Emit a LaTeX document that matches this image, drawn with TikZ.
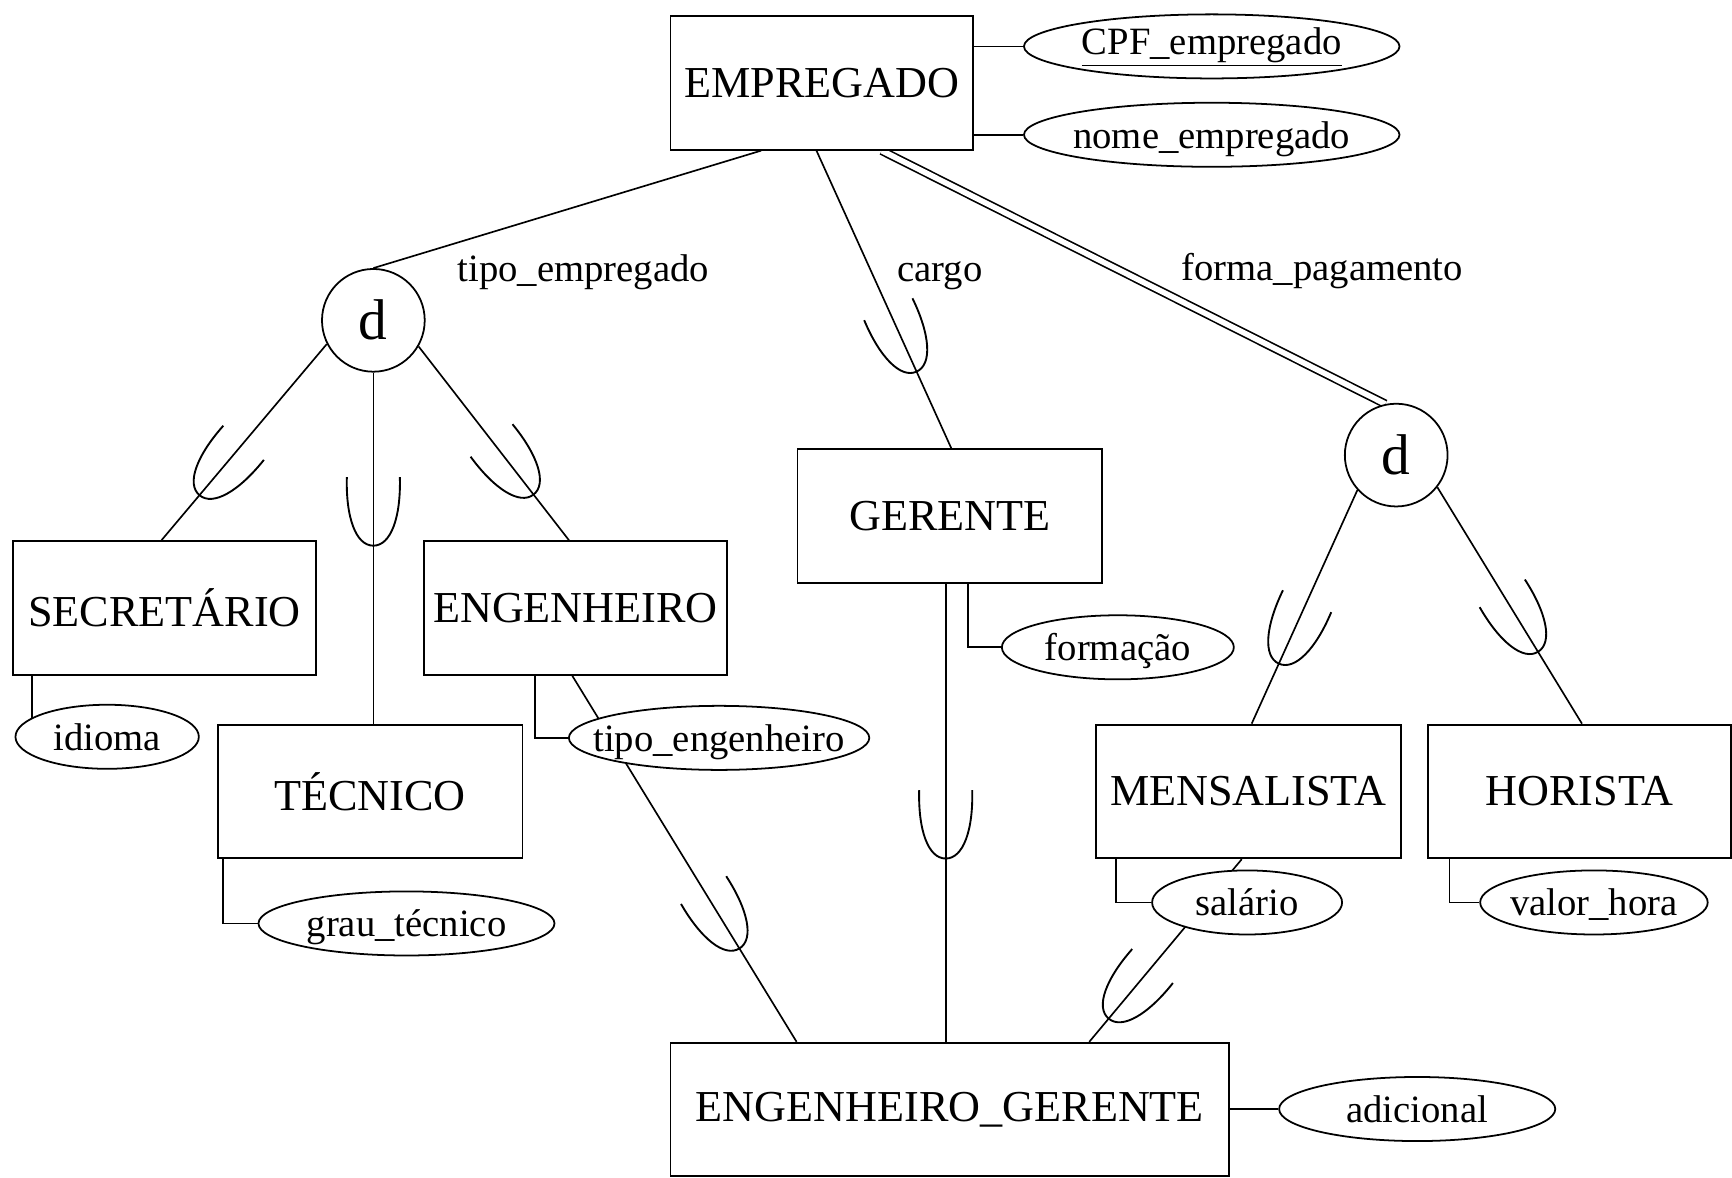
\documentclass[tikz,border=0pt]{standalone}
\usepackage{fontspec}
\setmainfont{Liberation Serif}
\usetikzlibrary{shapes.geometric,calc,backgrounds}
\newcommand\fsz[1]{\fontsize{#1}{#1}\selectfont}
\begin{document}
\begin{tikzpicture}[x=1pt,y=-1pt,
  entity/.style={draw,rectangle,fill=white,line width=1.7pt,minimum width=275pt,minimum height=121pt,inner sep=0pt,font=\fsz{40}},
  attr/.style={draw,ellipse,fill=white,line width=1.6pt,minimum height=58pt,inner ysep=0pt,inner xsep=-60pt,text depth=0pt,font=\fsz{35}},
  disj/.style={draw,circle,fill=white,line width=1.6pt,minimum size=93pt,inner sep=0pt,font=\fsz{52}},
  conn/.style={line width=1.5pt},
  lbl/.style={font=\fsz{35},anchor=base,inner sep=0pt},
  cupat/.style={pos=#1,sloped,allow upside down},
  cup/.pic={\draw[line width=1.7pt] (-62pt,24pt) .. controls (-26pt,25pt) and (0pt,16pt) .. (0pt,0pt) .. controls (0pt,-16pt) and (-26pt,-25pt) .. (-62pt,-24pt);},
  ]
\useasboundingbox (0,0) rectangle (1568,1066);

% entities
\node[entity,minimum width=274pt] (emp) at (744,75) {EMPREGADO};
\node[entity,minimum width=274pt] (sec) at (149,550.5) {SECRETÁRIO};
\node[entity,minimum width=274pt] (eng) at (521,550.5) {ENGENHEIRO};
\node[entity,minimum width=276pt] (tec) at (335,716.5) {TÉCNICO};
\node[entity,minimum width=276pt] (ger) at (860,467) {GERENTE};
\node[entity,minimum width=276pt] (men) at (1130,716.5) {MENSALISTA};
\node[entity,minimum width=274pt] (hor) at (1430,716.5) {HORISTA};
\node[entity,minimum width=506pt] (eg) at (860,1004.5) {ENGENHEIRO\_GERENTE};

% disjointness circles
\node[disj] (d1) at (338,290) {d};
\node[disj] (d2) at (1264,412) {d};

% attributes
\node[attr,minimum width=340pt,text depth=9pt] (cpf) at (1097,42) {\underline{CPF\_empregado}};
\node[attr,minimum width=340pt] (nome) at (1097,122) {nome\_empregado};
\node[attr,minimum width=166pt] (idioma) at (97,667) {idioma};
\node[attr,minimum width=272pt] (tipoeng) at (651,668) {tipo\_engenheiro};
\node[attr,minimum width=268pt] (grau) at (368,836) {grau\_técnico};
\node[attr,minimum width=210pt] (form) at (1012,586) {formação};
\node[attr,minimum width=172pt] (sal) at (1129,817) {salário};
\node[attr,minimum width=206pt] (valor) at (1443,817) {valor\_hora};
\node[attr,minimum width=250pt] (adic) at (1283,1004) {adicional};

% labels
\node[lbl] (ltipo) at (528,255) {tipo\_empregado};
\node[lbl] (lcargo) at (851,255) {cargo};
\node[lbl] (lforma) at (1197,254) {forma\_pagamento};

% connection points
\coordinate (empA) at ($(emp.south west)+(83,0)$);
\coordinate (empB) at ($(emp.south west)+(133,0)$);
\coordinate (empC) at ($(emp.south west)+(192,0)$);
\coordinate (gerT) at ($(ger.north west)+(140,0)$);
\coordinate (secT) at ($(sec.north west)+(135,0)$);
\coordinate (engT) at ($(eng.north west)+(132,0)$);
\coordinate (menT) at ($(men.north west)+(142,0)$);
\coordinate (horT) at ($(hor.north west)+(140,0)$);
\coordinate (gerB) at ($(ger.south west)+(135,0)$);
\coordinate (engB) at ($(eng.south west)+(135,0)$);
\coordinate (menB) at ($(men.south west)+(133,0)$);
\coordinate (egA) at ($(eg.north west)+(115,0)$);
\coordinate (egC) at ($(eg.north west)+(380,0)$);
\coordinate (secA) at ($(sec.south west)+(18,0)$);
\coordinate (engA) at ($(eng.south west)+(101,0)$);
\coordinate (tecA) at ($(tec.south west)+(6,0)$);
\coordinate (gerA) at ($(ger.south west)+(155,0)$);
\coordinate (menA) at ($(men.south west)+(19,0)$);
\coordinate (horA) at ($(hor.south west)+(20,0)$);

\begin{scope}[on background layer]
\begin{scope}[conn]
  % attribute links
  \draw (cpf.west -| emp.east) -- (cpf.west);
  \draw (nome.west -| emp.east) -- (nome.west);
  \draw (secA) -- (secA |- idioma.center);
  \draw (engA) |- (tipoeng.west);
  \draw (tecA) |- (grau.west);
  \draw (gerA) |- (form.west);
  \draw (menA) |- (sal.west);
  \draw (horA) |- (valor.west);
  \draw (eg.east |- adic.west) -- (adic.west);
  % specialisation links
  \draw (empA) -- (d1.north);
  \draw (empB) -- (gerT) pic[cupat=0.743]{cup};
  \draw[double,double distance=5pt] (empC) -- (d2.102);
  \draw (d1.207) -- (secT) pic[cupat=0.77]{cup};
  \draw (d1.south) -- (d1.south |- tec.north) pic[cupat=0.493]{cup};
  \draw (d1.330) -- (engT) pic[cupat=0.764]{cup};
  \draw (d2.222) -- (menT) pic[cupat=0.743]{cup};
  \draw (d2.322) -- (horT) pic[cupat=0.696]{cup};
  \draw (gerB) -- (gerB |- eg.north) pic[cupat=0.6]{cup};
  \draw (engB) -- (egA) pic[cupat=0.745]{cup};
  \draw (menB) -- (egC) pic[cupat=0.873]{cup};
\end{scope}
\end{scope}
\end{tikzpicture}
\end{document}
